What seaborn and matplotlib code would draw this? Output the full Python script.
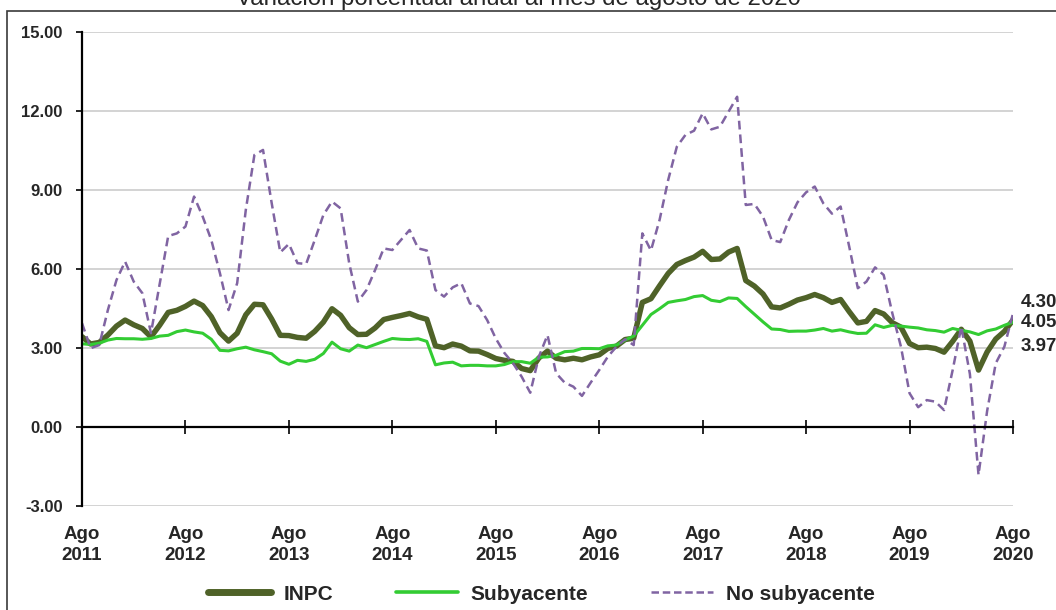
import numpy as np
import pandas as pd
import seaborn as sns
import matplotlib.pyplot as plt
from matplotlib.lines import Line2D
from matplotlib.patches import Rectangle
from matplotlib.transforms import blended_transform_factory

# Inflacion anual, agosto 2011 - agosto 2020 (mensual)
inpc = [3.42, 3.14, 3.20, 3.48, 3.82,
        4.05, 3.87, 3.73, 3.41, 3.85, 4.34, 4.42, 4.57, 4.77, 4.60, 4.18, 3.57,
        3.25, 3.55, 4.25, 4.65, 4.63, 4.09, 3.47, 3.46, 3.39, 3.36, 3.62, 3.97,
        4.48, 4.23, 3.76, 3.50, 3.51, 3.75, 4.07, 4.15, 4.22, 4.30, 4.17, 4.08,
        3.07, 3.00, 3.14, 3.06, 2.88, 2.87, 2.74, 2.59, 2.52, 2.48, 2.21, 2.13,
        2.61, 2.87, 2.60, 2.54, 2.60, 2.54, 2.65, 2.73, 2.97, 3.06, 3.31, 3.36,
        4.72, 4.86, 5.35, 5.82, 6.16, 6.31, 6.44, 6.66, 6.35, 6.37, 6.63, 6.77,
        5.55, 5.34, 5.04, 4.55, 4.51, 4.65, 4.81, 4.90, 5.02, 4.90, 4.72, 4.83,
        4.37, 3.94, 4.00, 4.41, 4.28, 3.95, 3.78, 3.16, 3.00, 3.02, 2.97, 2.83,
        3.24, 3.70, 3.25, 2.15, 2.84, 3.33, 3.62, 4.05]

subyacente = [3.15, 3.12, 3.17, 3.29, 3.35,
              3.34, 3.34, 3.32, 3.35, 3.44, 3.47, 3.61, 3.67, 3.60, 3.55, 3.32, 2.90,
              2.88, 2.96, 3.02, 2.92, 2.85, 2.77, 2.49, 2.37, 2.52, 2.48, 2.56, 2.78,
              3.21, 2.96, 2.87, 3.10, 3.00, 3.12, 3.24, 3.35, 3.32, 3.31, 3.34, 3.24,
              2.35, 2.42, 2.45, 2.31, 2.33, 2.33, 2.31, 2.31, 2.36, 2.47, 2.47, 2.41,
              2.64, 2.65, 2.71, 2.85, 2.87, 2.97, 2.97, 2.96, 3.07, 3.10, 3.29, 3.44,
              3.85, 4.26, 4.48, 4.72, 4.78, 4.83, 4.94, 4.98, 4.80, 4.75, 4.89, 4.87,
              4.56, 4.27, 3.98, 3.71, 3.69, 3.62, 3.63, 3.63, 3.67, 3.73, 3.63, 3.68,
              3.60, 3.54, 3.55, 3.87, 3.77, 3.85, 3.82, 3.78, 3.75, 3.68, 3.65, 3.59,
              3.73, 3.66, 3.60, 3.50, 3.64, 3.71, 3.85, 3.97]

no_subyacente = [3.93, 2.98, 3.10, 4.43, 5.57,
                 6.27, 5.51, 5.07, 3.55, 5.40, 7.24, 7.34, 7.60, 8.74, 7.98, 7.09, 5.83,
                 4.43, 5.45, 8.23, 10.32, 10.51, 8.50, 6.62, 6.94, 6.21, 6.18, 7.09, 8.04,
                 8.55, 8.29, 6.20, 4.75, 5.19, 5.95, 6.77, 6.71, 7.09, 7.47, 6.77, 6.69,
                 5.19, 4.94, 5.29, 5.45, 4.68, 4.58, 4.05, 3.35, 2.80, 2.41, 1.90, 1.29,
                 2.66, 3.48, 2.03, 1.67, 1.52, 1.17, 1.67, 2.15, 2.66, 3.04, 3.32, 3.10,
                 7.34, 6.69, 7.85, 9.37, 10.63, 11.08, 11.24, 11.90, 11.29, 11.39, 11.96, 12.53,
                 8.42, 8.46, 7.98, 7.09, 7.01, 7.85, 8.52, 8.90, 9.12, 8.48, 8.09, 8.36,
                 6.84, 5.26, 5.51, 6.05, 5.76, 4.31, 3.04, 1.27, 0.74, 1.01, 0.95, 0.63,
                 2.15, 3.80, 2.00, -1.83, 0.60, 2.41, 3.04, 4.30]

years = list(range(2011, 2021))
yticks = [-3, 0, 3, 6, 9, 12, 15]

fechas = pd.date_range("2011-08-01", "2020-08-01", freq="MS")
df = pd.DataFrame({"mes": np.arange(len(fechas)), "INPC": inpc,
                   "Subyacente": subyacente, "No subyacente": no_subyacente})

sns.set_style("white")
plt.rcParams["font.family"] = ["Liberation Sans", "DejaVu Sans"]

fig = plt.figure(figsize=(10.56, 6.10), dpi=100)
ax = fig.add_axes([82 / 1056, 1 - 505.7 / 610, (1013 - 82) / 1056, (505.7 - 31.7) / 610])

c_inpc, c_sub, c_nosub = "#4F6228", "#33CC33", "#8064A2"
sns.lineplot(data=df, x="mes", y="INPC", ax=ax, color=c_inpc, lw=3.9)
sns.lineplot(data=df, x="mes", y="Subyacente", ax=ax, color=c_sub, lw=2.2)
sns.lineplot(data=df, x="mes", y="No subyacente", ax=ax, color=c_nosub, lw=1.8,
             linestyle=(0, (3.5, 2)))

ax.set_xlim(0, len(fechas) - 1)
ax.set_ylim(-3, 15)
ax.set_yticks(yticks)
ax.set_yticklabels([f"{v:.2f}" for v in yticks], fontsize=12, fontweight="bold")
ax.yaxis.grid(True, color="#C8C8C8", lw=1.1)
ax.set_axisbelow(True)
ax.set_xlabel("")
ax.set_ylabel("")

for s in ["top", "right"]:
    ax.spines[s].set_visible(False)
ax.spines["left"].set_color("black")
ax.spines["left"].set_linewidth(1.6)
ax.spines["bottom"].set_position(("data", 0))
ax.spines["bottom"].set_color("black")
ax.spines["bottom"].set_linewidth(1.6)
ax.tick_params(axis="y", direction="out", length=4, width=1.4, pad=10, left=True)
ax.set_xticks([12 * i for i in range(len(years))])
ax.tick_params(axis="x", direction="inout", length=10, width=1.4, bottom=True, labelbottom=False)

trans = blended_transform_factory(ax.transData, ax.transAxes)
for i, yr in enumerate(years):
    ax.text(12 * i, -0.083, f"Ago\n{yr}", transform=trans, ha="center", va="center",
            fontsize=13.5, fontweight="bold", linespacing=1.35)

# etiquetas de los ultimos valores
ult = len(fechas) - 1
for val, ypos in [(no_subyacente[-1], 4.70), (inpc[-1], 3.95), (subyacente[-1], 3.04)]:
    ax.text(ult + 0.9, ypos, f"{val:.2f}", ha="left", va="center",
            fontsize=13.5, fontweight="bold", clip_on=False)

handles = [Line2D([], [], color=c_inpc, lw=5),
           Line2D([], [], color=c_sub, lw=2.6),
           Line2D([], [], color=c_nosub, lw=1.8, linestyle=(0, (3, 1.5)))]
fig.legend(handles, ["INPC", "Subyacente", "No subyacente"], loc="center",
           bbox_to_anchor=(541.5 / 1056, 1 - 594 / 610), ncol=3, frameon=False,
           prop={"size": 15, "weight": "bold"}, handlelength=3.0,
           columnspacing=3.0, handletextpad=0.6)

fig.text(519 / 1056, 1 - 5 / 610, "Variación porcentual anual al mes de agosto de 2020",
         ha="center", va="baseline", fontsize=17.3)

fig.patches.append(Rectangle((7 / 1056, -0.1), 1.5, 1.1 - 11 / 610, transform=fig.transFigure,
                             fill=False, edgecolor="#3a3a3a", lw=1.2))

fig.savefig("out.png", dpi=100)
